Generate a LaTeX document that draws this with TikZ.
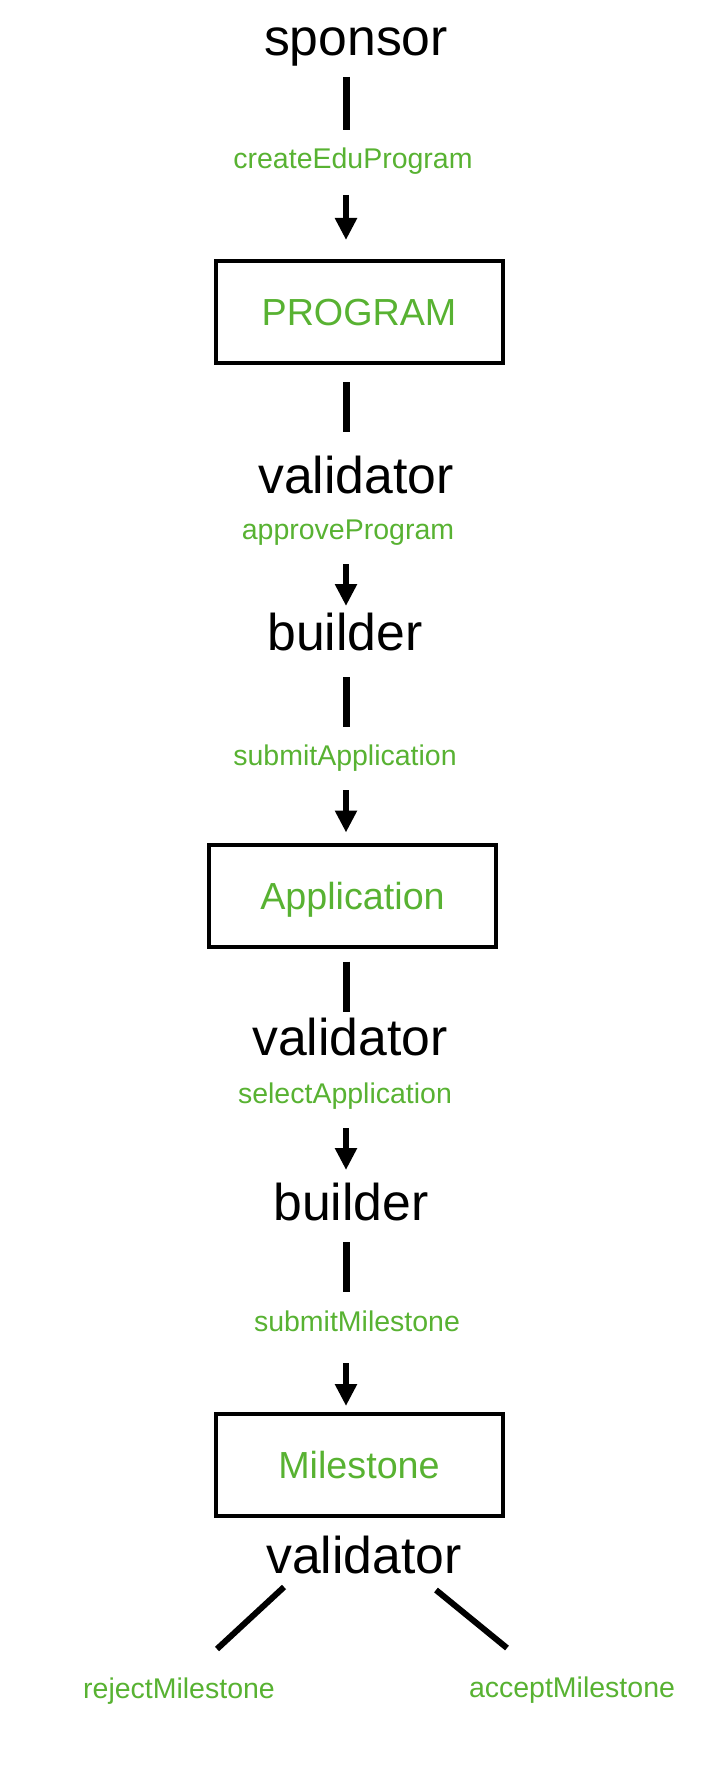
\documentclass[tikz,border=0pt]{standalone}
\usepackage{fontspec}
\setmainfont{Liberation Sans}
\usetikzlibrary{arrows.meta}
\definecolor{callgreen}{HTML}{58B232}
\tikzset{
  role/.style={inner sep=0pt, outer sep=0pt, anchor=base,
    font=\fontsize{25.85}{30}\selectfont, text height=18.5pt, text depth=0pt},
  call/.style={inner sep=0pt, outer sep=0pt, anchor=base, text=callgreen,
    font=\fontsize{14.25}{17}\selectfont, text height=9pt, text depth=0pt},
  record/.style={draw, line width=2pt, inner sep=0pt, outer sep=0pt, text=callgreen,
    font=\fontsize{18.85}{22}\selectfont, text height=13.5pt, text depth=0pt,
    minimum width=143.5pt, minimum height=51pt},
  stub/.style={line width=3.5pt},
  flow/.style={->, line width=3.3pt},
  branch/.style={line width=3pt}
}

\begin{document}
\begin{tikzpicture}[x=0.5pt, y=-0.5pt, >={Triangle[width=10.5pt,length=11pt]}]
  \useasboundingbox (0,0) rectangle (714,1776);
  \coordinate (spine) at (346,0); % the column the lines run down
  % ---------- program ----------
  \node[role] (sponsor) at (356,56) {sponsor};
  \node[call] (createEdu) at (353,169) {createEduProgram};
  \node[record] (program) at (359,312) {PROGRAM};
  \node[role] (validatorA) at (356,493) {validator};
  \node[call] (approveProg) at (348,539) {approveProgram};
  \node[role] (builderA) at (345,650) {builder};
  % ---------- application ----------
  \node[call] (submitApp) at (345,765) {submitApplication};
  \node[record] (application) at (352.5,895.5) {Application};
  \node[role] (validatorB) at (350,1055) {validator};
  \node[call] (selectApp) at (345,1103) {selectApplication};
  \node[role] (builderB) at (351,1220) {builder};
  % ---------- milestone ----------
  \node[call] (submitMs) at (357,1331) {submitMilestone};
  \node[record] (milestone) at (359,1465) {Milestone};
  \node[role] (validatorC) at (364,1573) {validator};
  \node[call] (rejectMs) at (179,1698) {rejectMilestone};
  \node[call] (acceptMs) at (572,1697) {acceptMilestone};
  % ---------- connectors ----------
  \draw[stub, shorten <=10.5pt, shorten >=10.5pt] (sponsor.south -| spine) -- (createEdu.north -| spine);
  \draw[flow, shorten <=13pt, shorten >=10.5pt] (createEdu.south -| spine) -- (program.north -| spine);
  \draw[stub, shorten <=9.5pt, shorten >=12pt] (program.south -| spine) -- (validatorA.north -| spine);
  \draw[flow, shorten <=12.5pt, shorten >=3.5pt] (approveProg.south -| spine) -- (builderA.north -| spine);
  \draw[stub, shorten <=13.5pt, shorten >=10pt] (builderA.south -| spine) -- (submitApp.north -| spine);
  \draw[flow, shorten <=12.5pt, shorten >=6pt] (submitApp.south -| spine) -- (application.north -| spine);
  \draw[stub, shorten <=7.5pt, shorten >=3pt] (application.south -| spine) -- (validatorB.north -| spine);
  \draw[flow, shorten <=12.5pt, shorten >=6.5pt] (selectApp.south -| spine) -- (builderB.north -| spine);
  \draw[stub, shorten <=11pt, shorten >=10.5pt] (builderB.south -| spine) -- (submitMs.north -| spine);
  \draw[flow, shorten <=16pt, shorten >=4pt] (submitMs.south -| spine) -- (milestone.north -| spine);
  % the validator's two outcomes
  \draw[branch] ([shift={(-80,14)}]validatorC.base) -- ([shift={(38,-49)}]rejectMs.base);
  \draw[branch] ([shift={(72,17)}]validatorC.base) -- ([shift={(-65,-49)}]acceptMs.base);
\end{tikzpicture}
\end{document}
